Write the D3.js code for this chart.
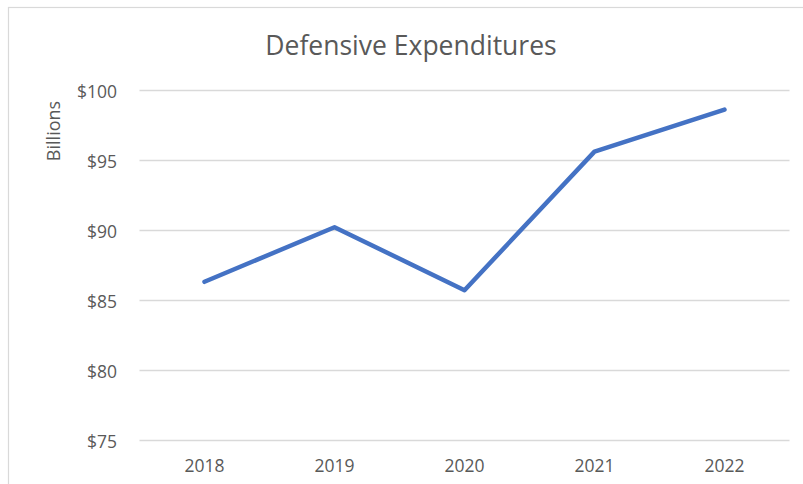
<!DOCTYPE html>
<html><head><meta charset="utf-8">
<script src="https://cdn.jsdelivr.net/npm/d3@7"></script>
<style>
html,body{margin:0;padding:0;background:#fff;}
svg{display:block;font-family:"Open Sans",sans-serif;}
</style></head>
<body>
<script>
const years = ["2018","2019","2020","2021","2022"];
const values = [86.3, 90.2, 85.7, 95.6, 98.6];
const yTicks = [75, 80, 85, 90, 95, 100];
const title = "Defensive Expenditures";
const yTitle = "Billions";

const W = 803, H = 484;
const svg = d3.select("body").append("svg").attr("width", W).attr("height", H);

// chart area border
svg.append("rect").attr("x", 8.5).attr("y", 7.5).attr("width", 820).attr("height", 500)
  .attr("fill", "#fff").attr("stroke", "#d9d9d9").attr("stroke-width", 1.2);

const x = d3.scaleBand().domain(years).range([139.5, 789.5]);
const y = d3.scaleLinear().domain([75, 100]).range([440, 90]);

// gridlines
svg.append("g").selectAll("line").data(yTicks).join("line")
  .attr("x1", 139.5).attr("x2", 789.5)
  .attr("y1", d => Math.round(y(d)) + 0.5).attr("y2", d => Math.round(y(d)) + 0.5)
  .attr("stroke", "#d9d9d9").attr("stroke-width", 1.3);

const font = "'Open Sans', sans-serif";

// y axis labels
const yAxis = d3.axisLeft(y).tickValues(yTicks).tickSize(0).tickPadding(0)
  .tickFormat(d => "$" + d);
const gy = svg.append("g").attr("transform", "translate(117,0)").call(yAxis);
gy.select(".domain").remove();
gy.selectAll("text").attr("fill", "#595959").attr("font-size", 17.5)
  .attr("font-family", font).attr("dy", "0.43em");

// x axis labels
const xAxis = d3.axisBottom(x).tickSize(0).tickPadding(0);
const gx = svg.append("g").attr("transform", "translate(0,460)").call(xAxis);
gx.select(".domain").remove();
gx.selectAll("text").attr("fill", "#595959").attr("font-size", 17.5)
  .attr("font-family", font);

// line
const line = d3.line().x((d, i) => x(years[i]) + x.bandwidth() / 2).y(d => y(d));
svg.append("path").datum(values).attr("d", line)
  .attr("fill", "none").attr("stroke", "#4472C4").attr("stroke-width", 4.5)
  .attr("stroke-linejoin", "round").attr("stroke-linecap", "round");

// title
svg.append("text").attr("x", 411).attr("y", 55).attr("text-anchor", "middle")
  .attr("font-size", 26.5).attr("fill", "#595959").attr("font-family", font).text(title);

// y title
svg.append("text").attr("transform", "translate(60,131) rotate(-90)")
  .attr("text-anchor", "middle").attr("font-size", 18).attr("fill", "#595959")
  .attr("font-family", font).text(yTitle);
</script>
</body></html>
